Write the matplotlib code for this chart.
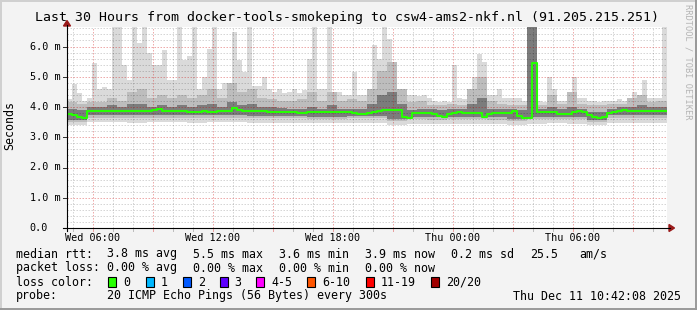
import numpy as np
import matplotlib
matplotlib.use("Agg")
import matplotlib.pyplot as plt
from matplotlib.lines import Line2D
from matplotlib.patches import Polygon, Rectangle

# graph covers 30 hours ending Thu 10:42:08, hours counted from Wed 00:00
t_start = 4 + 42 / 60 + 8 / 3600
t_end = t_start + 30

# median rtt in ms, one value per 15 minutes
median_ms = [3.78, 3.72, 3.66, 3.62, 3.86, 3.87, 3.88, 3.87, 3.88, 3.87,
             3.88, 3.86, 3.87, 3.86, 3.87, 3.88, 3.87, 3.89, 3.93, 3.87,
             3.86, 3.88, 3.87, 3.86, 3.84, 3.83, 3.85, 3.86, 3.84, 3.85,
             3.86, 3.87, 3.88, 3.96, 3.90, 3.88, 3.88, 3.87, 3.86, 3.87,
             3.85, 3.84, 3.85, 3.83, 3.82, 3.83, 3.81, 3.80, 3.82, 3.84,
             3.85, 3.83, 3.84, 3.85, 3.83, 3.82, 3.82, 3.80, 3.78, 3.78,
             3.80, 3.82, 3.86, 3.90, 3.91, 3.89, 3.90, 3.67, 3.64, 3.79,
             3.81, 3.81, 3.79, 3.78, 3.70, 3.68, 3.76, 3.81, 3.82, 3.81,
             3.80, 3.81, 3.80, 3.68, 3.77, 3.80, 3.79, 3.80, 3.80, 3.88,
             3.70, 3.64, 3.64, 5.45, 3.82, 3.82, 3.83, 3.82, 3.78, 3.77,
             3.78, 3.84, 3.86, 3.85, 3.72, 3.66, 3.64, 3.66, 3.80, 3.82,
             3.86, 3.89, 3.88, 3.87, 3.86, 3.86, 3.87, 3.86, 3.86, 3.87]

# slowest ping in ms, per 15 minutes (6.7 = off the top)
max_ms = [4.25, 4.75, 4.45, 4.20, 4.30, 5.45, 4.60, 4.65, 4.60, 6.70,
          6.70, 5.40, 4.90, 6.70, 6.10, 6.70, 5.80, 5.40, 5.40, 5.90,
          4.90, 4.90, 6.70, 5.55, 5.70, 6.70, 4.60, 5.00, 5.93, 6.70,
          4.60, 4.80, 4.60, 6.48, 5.55, 5.16, 6.70, 4.70, 4.70, 5.00,
          4.60, 4.50, 4.60, 4.45, 4.50, 4.60, 4.45, 4.55, 5.60, 6.70,
          4.60, 4.60, 6.70, 4.40, 4.50, 4.40, 4.40, 5.16, 4.40, 4.40,
          4.40, 6.05, 5.60, 6.70, 6.26, 5.39, 4.60, 4.60, 4.40, 4.40,
          4.35, 4.40, 4.30, 4.20, 4.15, 4.20, 4.15, 5.40, 4.30, 4.25,
          4.30, 5.00, 5.76, 5.49, 4.40, 4.40, 4.60, 4.30, 4.30, 4.30,
          4.30, 4.20, 6.70, 6.70, 4.20, 4.15, 5.00, 4.60, 4.20, 4.20,
          4.25, 5.00, 4.30, 4.30, 4.20, 4.20, 4.15, 4.20, 4.20, 4.20,
          4.25, 4.20, 4.25, 4.50, 4.40, 4.90, 4.30, 4.30, 4.30, 6.70]

# upper edge of the medium and dark smoke in ms, per 30 minutes
mid_hi_ms = [4.15, 4.10, 4.15, 4.15, 4.30, 4.20, 4.50, 4.60, 4.30, 4.40,
             4.30, 4.40, 4.30, 4.40, 4.60, 4.30, 4.80, 4.50, 4.60, 4.30,
             4.25, 4.20, 4.20, 4.25, 4.50, 4.20, 4.50, 4.20, 4.25, 4.20,
             4.60, 5.20, 5.50, 4.60, 4.15, 4.20, 4.05, 4.05, 4.10, 4.05,
             4.60, 5.00, 4.20, 4.10, 4.05, 4.05, 6.70, 4.05, 4.40, 4.10,
             4.50, 4.10, 4.05, 4.05, 4.10, 4.10, 4.30, 4.40, 4.15, 4.20]
dark_hi_ms = [3.95, 3.90, 4.00, 4.00, 4.05, 4.00, 4.10, 4.10, 4.00, 4.05,
              4.00, 4.05, 4.00, 4.05, 4.10, 4.00, 4.15, 4.05, 4.10, 4.00,
              4.00, 3.98, 3.95, 3.95, 4.00, 3.95, 4.05, 3.95, 3.95, 3.95,
              4.10, 4.40, 4.50, 4.10, 3.90, 3.92, 3.92, 3.90, 3.92, 3.92,
              4.10, 4.30, 3.95, 3.92, 3.95, 3.90, 6.70, 3.95, 4.00, 3.92,
              4.00, 3.95, 3.85, 3.85, 3.92, 4.00, 4.00, 4.05, 4.00, 4.00]

# lower edges of the smoke in ms, per hour
min_ms = [3.42, 3.50, 3.50, 3.48, 3.50, 3.50, 3.48, 3.50, 3.50, 3.48,
          3.48, 3.47, 3.47, 3.46, 3.48, 3.48, 3.42, 3.45, 3.44, 3.45,
          3.45, 3.44, 3.40, 3.45, 3.46, 3.45, 3.42, 3.47, 3.48, 3.48]
mid_lo_ms = [3.50, 3.65, 3.65, 3.64, 3.65, 3.64, 3.63, 3.64, 3.63, 3.62,
             3.62, 3.62, 3.60, 3.60, 3.62, 3.62, 3.55, 3.60, 3.58, 3.60,
             3.60, 3.58, 3.55, 3.60, 3.60, 3.60, 3.50, 3.62, 3.62, 3.62]
dark_lo_ms = [3.56, 3.74, 3.75, 3.74, 3.74, 3.73, 3.72, 3.72, 3.72, 3.70,
              3.70, 3.70, 3.68, 3.68, 3.70, 3.70, 3.60, 3.68, 3.66, 3.68,
              3.68, 3.66, 3.60, 3.68, 3.68, 3.68, 3.56, 3.72, 3.72, 3.72]

x_ticks = [6, 12, 18, 24, 30]
x_labels = ["Wed 06:00", "Wed 12:00", "Wed 18:00", "Thu 00:00", "Thu 06:00"]
y_ticks = [0, 1, 2, 3, 4, 5, 6]
y_labels = ["0.0", "1.0 m", "2.0 m", "3.0 m", "4.0 m", "5.0 m", "6.0 m"]

loss_labels = ["0", "1", "2", "3", "4-5", "6-10", "11-19", "20/20"]
loss_colors = ["#26ff00", "#00b8ff", "#0059ff", "#5e00ff", "#ff00ff",
               "#ff5500", "#ff0000", "#a10000"]

W, H = 697, 310
MONO = "DejaVu Sans Mono"


def fx(x):
    return x / W


def fy(y):
    return 1 - y / H


fig = plt.figure(figsize=(W / 100, H / 100), dpi=100, facecolor="#f3f3f3")
ax = fig.add_axes([fx(67), fy(228), 600 / W, 201 / H], facecolor="white")
ax.set_xlim(t_start, t_end)
ax.set_ylim(0, 201 / 30.25)
for s in ax.spines.values():
    s.set_visible(False)
ax.set_xticks([])
ax.set_yticks([])

# smoke, everything held on a 15 minute grid
edges = t_start + np.arange(len(median_ms) + 1) * 0.25


def hold(vals, n):
    v = np.repeat(np.asarray(vals, dtype=float), n)
    return np.append(v, v[-1])


med = hold(median_ms, 1)
ax.fill_between(edges, hold(min_ms, 4), hold(max_ms, 1), step="post",
                color="#dadada", lw=0, zorder=1)
ax.fill_between(edges, hold(mid_lo_ms, 4), hold(mid_hi_ms, 2), step="post",
                color="#bdbdbd", lw=0, zorder=1.1)
ax.fill_between(edges, hold(dark_lo_ms, 4), hold(dark_hi_ms, 2), step="post",
                color="#7c7c7c", lw=0, zorder=1.2)

# grid: translucent, like rrdtool draws it
dot = (0, (1.5, 1.5))
minor_c = (0, 0, 0, 0.16)
major_c = (0.8, 0, 0, 0.33)
for h in range(5, 35):
    ax.axvline(h, color=major_c if h % 3 == 0 else minor_c, lw=0.72,
               ls=dot, zorder=2)
for i in range(1, 34):
    ax.axhline(i * 0.2, color=major_c if i % 5 == 0 else minor_c, lw=0.72,
               ls=dot, zorder=2)

ax.step(edges, med, where="post", color="#26ff00", lw=1.5, zorder=3)

# tick marks below the x axis
xt = ax.get_xaxis_transform()
for h in range(5, 35):
    ax.plot([h, h], [0, -3 / 201], transform=xt, clip_on=False, lw=0.72,
            color="#e8a0a0" if h % 3 == 0 else "#bdbdbd")
for t, lab in zip(x_ticks, x_labels):
    ax.text(t, -9.7 / 201, lab, transform=xt, ha="center", va="center",
            family=MONO, fontsize=7.3)

yt = ax.get_yaxis_transform()
for v, lab in zip(y_ticks, y_labels):
    ax.plot([-4 / 600, 0], [v, v], transform=yt, clip_on=False, lw=0.72,
            color="#333333")
    fig.text(fx(29.5), ax.transData.transform((0, v))[1] / H, lab,
             ha="left", va="center", family=MONO, fontsize=7.3)

# axes with arrows
fig.add_artist(Line2D([fx(63), fx(670)], [fy(228), fy(228)], color="black",
                      lw=0.8))
fig.add_artist(Line2D([fx(67), fx(67)], [fy(231), fy(25)], color="black",
                      lw=0.8))
fig.add_artist(Polygon([(fx(669), fy(224.5)), (fx(669), fy(231.5)),
                        (fx(674.5), fy(228))], closed=True, color="#9a1a1a"))
fig.add_artist(Polygon([(fx(63.5), fy(26)), (fx(70.5), fy(26)),
                        (fx(67), fy(20.5))], closed=True, color="#9a1a1a"))

# titles
fig.text(fx(347), fy(18), "Last 30 Hours from docker-tools-smokeping to "
         "csw4-ams2-nkf.nl (91.205.215.251)", ha="center", va="center",
         family=MONO, fontsize=9.55)
fig.text(fx(10), fy(126), "Seconds", rotation=90, ha="center", va="center",
         family=MONO, fontsize=8.4)
fig.text(fx(688), fy(62), "RRDTOOL / TOBI OETIKER", rotation=270,
         ha="center", va="center", family=MONO, fontsize=6.2,
         color="#b4b4b4")

# legend
rows = [
    (254, [(16, "median rtt:"), (107.3, "3.8 ms avg"), (193.3, "5.5 ms max"),
           (279.3, "3.6 ms min"), (365, "3.9 ms now"), (451, "0.2 ms sd"),
           (530, "25.5"), (579.3, "am/s")]),
    (268, [(16, "packet loss:"), (107.3, "0.00 % avg"),
           (193.3, "0.00 % max"), (279.3, "0.00 % min"),
           (365, "0.00 % now")]),
    (282, [(16, "loss color:")]),
    (296, [(16, "probe:"),
           (107.3, "20 ICMP Echo Pings (56 Bytes) every 300s"),
           (513.3, "Thu Dec 11 10:42:08 2025")]),
]
for y, parts in rows:
    for x, txt in parts:
        fig.text(fx(x), fy(y), txt, ha="left", va="center", family=MONO,
                 fontsize=8.4)

box_x = [108, 145.7, 182.7, 219.7, 256.3, 307, 365.7, 430.7]
for bx, lab, col in zip(box_x, loss_labels, loss_colors):
    fig.add_artist(Rectangle((fx(bx), fy(287)), 8 / W, 10 / H, facecolor=col,
                             edgecolor="black", lw=0.8))
    fig.text(fx(bx + 15), fy(282), lab, ha="left", va="center", family=MONO,
             fontsize=8.4)

# 3d frame
fig.add_artist(Line2D([0, 1], [fy(0.5), fy(0.5)], color="#d0d0d0", lw=1.4))
fig.add_artist(Line2D([fx(0.5), fx(0.5)], [0, 1], color="#d0d0d0", lw=1.4))
fig.add_artist(Line2D([0, 1], [fy(309), fy(309)], color="#999999", lw=1.4))
fig.add_artist(Line2D([fx(696), fx(696)], [0, 1], color="#999999", lw=1.4))

fig.savefig("out.png", dpi=100, facecolor=fig.get_facecolor())
